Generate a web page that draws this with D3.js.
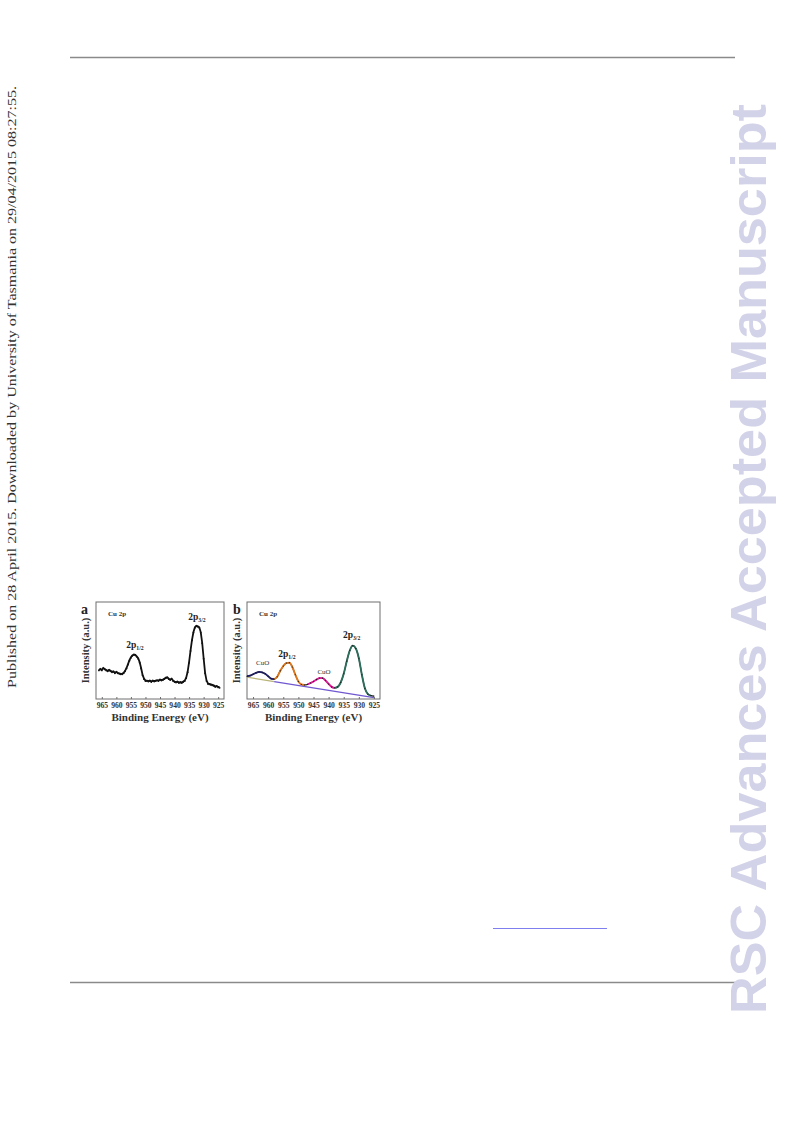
<!DOCTYPE html>
<html><head><meta charset="utf-8">
<script src="https://cdn.jsdelivr.net/npm/d3@7"></script>
<style>body{margin:0;background:#fff}svg{display:block}</style>
</head><body>
<svg id="page" width="793" height="1123"></svg>
<script>
// ---------- data ----------
const tickValues = [965, 960, 955, 950, 945, 940, 935, 930, 925];
// panel a: raw Cu 2p spectrum (binding energy eV, relative intensity)
const energyA = [966,965.5,965,964.5,964,963.5,963,962.5,962,961.5,961,960.5,960,959.5,959,958.5,958,957.5,957,956.5,956,955.5,955,954.5,954,953.5,953,952.5,952,951.5,951,950.5,950,949.5,949,948.5,948,947.5,947,946.5,946,945.5,945,944.5,944,943.5,943,942.5,942,941.5,941,940.5,940,939.5,939,938.5,938,937.5,937,936.5,936,935.5,935,934.5,934,933.5,933,932.5,932,931.5,931,930.5,930,929.5,929,928.5,928,927.5,927,926.5,926,925.5,925,924.5];
const intensityA = [0.30,0.31,0.30,0.32,0.31,0.30,0.29,0.30,0.29,0.28,0.285,0.27,0.28,0.27,0.265,0.26,0.26,0.27,0.29,0.32,0.36,0.40,0.43,0.45,0.46,0.455,0.44,0.42,0.38,0.32,0.25,0.21,0.19,0.19,0.185,0.19,0.18,0.19,0.185,0.19,0.195,0.19,0.20,0.195,0.20,0.21,0.22,0.225,0.21,0.20,0.21,0.19,0.18,0.175,0.18,0.17,0.175,0.17,0.18,0.19,0.22,0.28,0.38,0.50,0.61,0.69,0.74,0.755,0.75,0.74,0.69,0.58,0.42,0.27,0.19,0.16,0.155,0.15,0.145,0.14,0.13,0.135,0.125,0.12];
// panel b: Cu 2p spectrum with fitted components
const energyB = [967,966,965,964,963,962,961,960,959,958,957,956,955,954,953,952,951,950,949,948,947,946,945,944,943,942,941,940,939,938,937,936,935,934,933,932,931,930,929,928,927,926,925];
const intensityB = [0.235,0.24,0.255,0.27,0.28,0.275,0.26,0.235,0.21,0.205,0.23,0.29,0.34,0.37,0.375,0.33,0.25,0.18,0.15,0.145,0.15,0.165,0.18,0.20,0.215,0.215,0.19,0.155,0.125,0.115,0.125,0.17,0.26,0.39,0.50,0.55,0.52,0.42,0.25,0.11,0.05,0.035,0.03];
const componentNames = ["CuO sat. 1", "2p1/2", "CuO sat. 2", "2p3/2"];
const componentRanges = [[967, 958], [958, 948], [947, 938], [938, 926]];
const componentColors = ["#23236e", "#e0781e", "#e0189a", "#2e6e5c"];
const backgroundE = [967, 958, 925];
const backgroundI = [0.225, 0.18, 0.015];

// ---------- page ----------
const svg = d3.select("#page");
const serif = "'Liberation Serif','Times New Roman',serif";

svg.append("line").attr("x1",70).attr("x2",735).attr("y1",57.5).attr("y2",57.5).attr("stroke","#8a8a8a").attr("stroke-width",1.4);
svg.append("line").attr("x1",70).attr("x2",735).attr("y1",982.5).attr("y2",982.5).attr("stroke","#8a8a8a").attr("stroke-width",1.4);
svg.append("line").attr("x1",493).attr("x2",607).attr("y1",928.5).attr("y2",928.5).attr("stroke","#7f7ff0").attr("stroke-width",1.2);

svg.append("text").attr("transform","translate(16,688) rotate(-90)")
  .attr("font-family",serif).attr("font-size",12.5).attr("fill","#333")
  .attr("textLength",602).attr("lengthAdjust","spacingAndGlyphs")
  .text("Published on 28 April 2015. Downloaded by University of Tasmania on 29/04/2015 08:27:55.");

svg.append("text").attr("transform","translate(766,1014) rotate(-90)")
  .attr("font-family","'Liberation Sans',Arial,sans-serif").attr("font-weight","bold")
  .attr("font-size",50).attr("fill","#d2d2e8")
  .attr("textLength",910).attr("lengthAdjust","spacingAndGlyphs")
  .text("RSC Advances Accepted Manuscript");

// ---------- panels ----------
function panel(x0, x1, letter, letterX) {
  const y0 = 602, y1 = 699;
  const g = svg.append("g");
  const x = d3.scaleLinear().domain([967, 923]).range([x0, x1]);
  const y = d3.scaleLinear().domain([0, 1]).range([y1, y0]);
  g.append("rect").attr("x",x0).attr("y",y0).attr("width",x1-x0).attr("height",y1-y0)
    .attr("fill","none").attr("stroke","#6e6e6e").attr("stroke-width",1);
  const ax = g.append("g").attr("transform",`translate(0,${y1})`)
    .call(d3.axisBottom(x).tickValues(tickValues).tickSize(-2).tickPadding(4).tickFormat(d3.format("d")));
  ax.select(".domain").remove();
  ax.selectAll("line").attr("stroke","#6e6e6e");
  ax.selectAll("text").attr("font-family",serif).attr("font-weight","bold").attr("font-size",7.6).attr("fill","#333");
  g.append("text").attr("x",(x0+x1)/2).attr("y",721).attr("text-anchor","middle")
    .attr("font-family",serif).attr("font-weight","bold").attr("font-size",11).attr("fill","#333")
    .text("Binding Energy (eV)");
  g.append("text").attr("transform",`translate(${x0-7},${(y0+y1)/2}) rotate(-90)`).attr("text-anchor","middle")
    .attr("font-family",serif).attr("font-weight","bold").attr("font-size",10.5).attr("fill","#333")
    .text("Intensity (a.u.)");
  g.append("text").attr("x",letterX).attr("y",614).attr("font-family",serif).attr("font-weight","bold")
    .attr("font-size",14).attr("fill","#222").text(letter);
  g.append("text").attr("x",x0+12).attr("y",616).attr("font-family",serif).attr("font-weight","bold")
    .attr("font-size",7).attr("fill","#333").text("Cu 2p");
  return {g, x, y};
}
function peakLabel(g, px, py, sub, size) {
  const t = g.append("text").attr("x",px).attr("y",py).attr("text-anchor","middle")
    .attr("font-family",serif).attr("font-weight","bold").attr("font-size",size).attr("fill","#222");
  t.append("tspan").text("2p");
  t.append("tspan").attr("font-size",size*0.6).attr("dy",1.5).text(sub);
}

// panel a
const A = panel(96, 224, "a", 81);
const ptsA = energyA.map((e,i)=>[e, intensityA[i]]);
A.g.append("path").datum(ptsA).attr("fill","none").attr("stroke","#111").attr("stroke-width",1.8)
  .attr("d", d3.line().x(d=>A.x(d[0])).y(d=>A.y(d[1])));
A.g.selectAll("circle").data(ptsA).join("circle").attr("cx",d=>A.x(d[0])).attr("cy",d=>A.y(d[1])+0.5)
  .attr("r",0.9).attr("fill","#111");
peakLabel(A.g, A.x(953.6), 648, "1/2", 9.5);
peakLabel(A.g, A.x(932.3), 620, "3/2", 9.5);

// panel b
const B = panel(247, 380, "b", 233);
const ptsB = energyB.map((e,i)=>[e, intensityB[i]]);
const lineB = d3.line().x(d=>B.x(d[0])).y(d=>B.y(d[1])).curve(d3.curveMonotoneX);
const bg = backgroundE.map((e,i)=>[e, backgroundI[i]]);
B.g.append("path").datum(bg.slice(0,2)).attr("fill","none").attr("stroke","#b9b477").attr("stroke-width",1.3)
  .attr("d", d3.line().x(d=>B.x(d[0])).y(d=>B.y(d[1])));
B.g.append("path").datum(bg.slice(1)).attr("fill","none").attr("stroke","#7058d0").attr("stroke-width",1.3)
  .attr("d", d3.line().x(d=>B.x(d[0])).y(d=>B.y(d[1])));
B.g.append("path").datum(ptsB).attr("fill","none").attr("stroke","#222").attr("stroke-width",1.2)
  .attr("d", lineB);
componentRanges.forEach((r,i)=>{
  const seg = ptsB.filter(d=>d[0]<=r[0] && d[0]>=r[1]);
  B.g.append("path").datum(seg).attr("fill","none").attr("stroke",componentColors[i]).attr("stroke-width",1.9)
    .attr("d", lineB).append("title").text(componentNames[i]);
});
B.g.selectAll("circle").data(ptsB).join("circle").attr("cx",d=>B.x(d[0])).attr("cy",d=>B.y(d[1]))
  .attr("r",0.55).attr("fill","#111");
peakLabel(B.g, B.x(953.8), 657, "1/2", 9.5);
peakLabel(B.g, B.x(932.4), 638, "3/2", 9.5);
B.g.append("text").attr("x",B.x(961.8)).attr("y",665).attr("text-anchor","middle").attr("font-family",serif)
  .attr("font-size",7).attr("fill","#333").text("CuO");
B.g.append("text").attr("x",B.x(941.5)).attr("y",674).attr("text-anchor","middle").attr("font-family",serif)
  .attr("font-size",7).attr("fill","#333").text("CuO");
</script>
</body></html>
